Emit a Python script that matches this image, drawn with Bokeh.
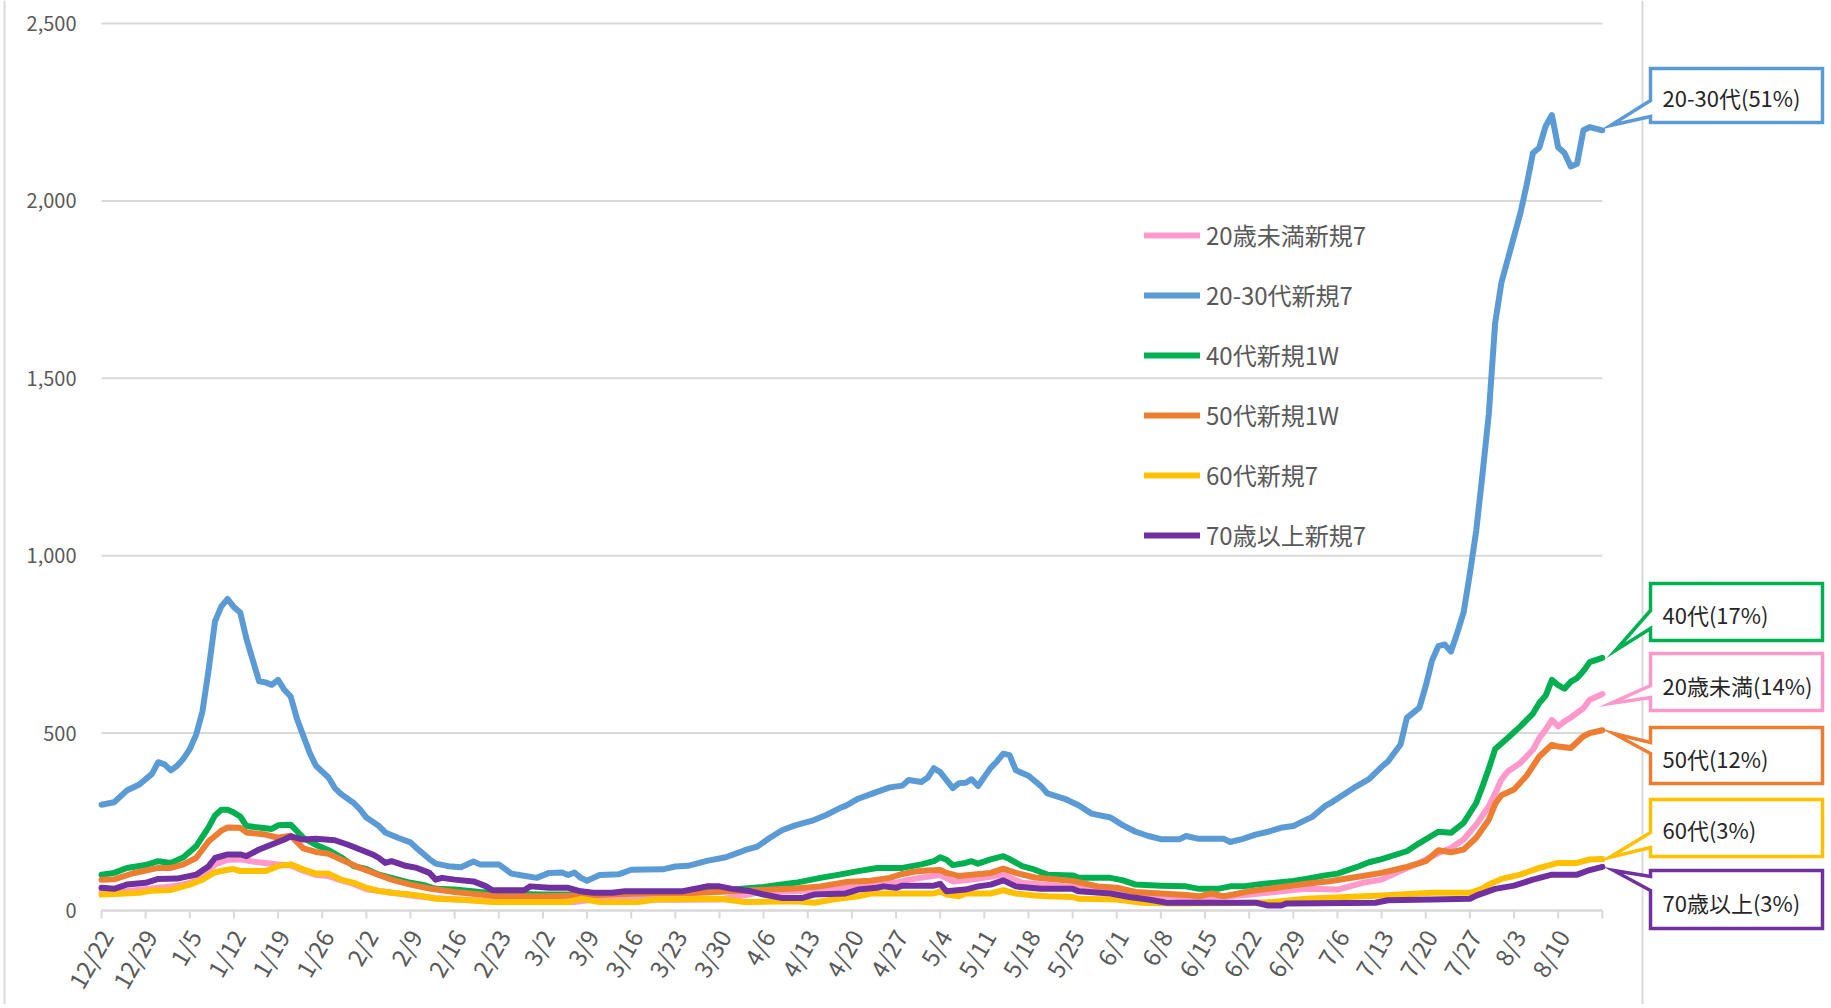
import math
from bokeh.plotting import figure
from bokeh.models import Range1d, FixedTicker, NumeralTickFormatter, Legend, LegendItem
from bokeh.core.properties import value
from bokeh.embed import file_html
from bokeh.resources import INLINE

# ---------------- data (day index from 12/22, values = weekly new cases) ----------------
tick_labels = ["12/22", "12/29", "1/5", "1/12", "1/19", "1/26", "2/2", "2/9", "2/16", "2/23",
               "3/2", "3/9", "3/16", "3/23", "3/30", "4/6", "4/13", "4/20", "4/27", "5/4",
               "5/11", "5/18", "5/25", "6/1", "6/8", "6/15", "6/22", "6/29", "7/6", "7/13",
               "7/20", "7/27", "8/3", "8/10"]
last_day = 238
y_ticks = [0, 500, 1000, 1500, 2000, 2500]

blue_days = [0, 2, 4, 6, 8, 9, 10, 11, 12, 13, 14, 15, 16, 17, 18, 19, 20, 21, 22, 23, 24, 25, 26, 27, 28,
             29, 30, 31, 33, 34, 36, 37, 38, 40, 41, 42, 44, 45, 47, 49, 50, 52, 53, 55, 57, 59, 60, 63, 65,
             67, 69, 71, 73, 74, 75, 76, 77, 79, 82, 84, 89, 91, 93, 96, 99, 101, 102, 104, 106, 108, 110,
             113, 115, 117, 118, 120, 122, 125, 127, 128, 130, 131, 132, 133, 135, 136, 137, 138, 139, 141,
             142, 143, 144, 145, 147, 149, 150, 153, 155, 157, 160, 162, 164, 166, 168, 171, 172, 174, 178,
             179, 181, 183, 185, 187, 189, 190, 192, 194, 195, 197, 199, 201, 203, 204, 206, 207, 209, 210,
             211, 212, 213, 214, 215, 216, 217, 218, 219, 220, 221, 222, 224, 225, 226, 227, 228, 229, 230,
             231, 232, 233, 234, 235, 236, 238]
blue_vals = [298, 305, 338, 355, 385, 418, 412, 395, 408, 428, 455, 495, 560, 680, 815, 857, 878, 855, 840,
             765, 705, 646, 643, 636, 650, 622, 603, 540, 445, 408, 375, 345, 328, 303, 285, 262, 238, 220,
             205, 192, 175, 145, 132, 125, 122, 138, 130, 130, 104, 98, 92, 106, 107, 100, 107, 92, 84, 100,
             102, 115, 116, 124, 126, 140, 150, 163, 170, 180, 205, 227, 240, 255, 270, 288, 295, 315, 328,
             347, 352, 368, 362, 374, 401, 390, 345, 359, 360, 370, 351, 402, 420, 442, 438, 395, 380, 350,
             330, 313, 296, 273, 262, 240, 222, 210, 201, 201, 210, 202, 202, 193, 202, 214, 222, 233, 238,
             247, 264, 294, 304, 327, 350, 370, 405, 420, 468, 543, 572, 633, 705, 745, 750, 730, 783, 840,
             950, 1070, 1230, 1400, 1655, 1770, 1900, 1965, 2045, 2135, 2150, 2210, 2242, 2151, 2135, 2097,
             2105, 2199, 2208, 2199]

green_days = [0, 2, 4, 7, 9, 11, 13, 15, 17, 18, 19, 20, 21, 22, 23, 25, 27, 28, 30, 32, 34, 36, 38, 40,
              42, 44, 46, 49, 51, 53, 56, 60, 63, 70, 77, 84, 91, 98, 102, 105, 107, 110, 114, 117, 120,
              123, 127, 130, 132, 133, 134, 135, 137, 138, 139, 141, 143, 144, 146, 148, 150, 154, 155, 160,
              162, 164, 168, 172, 174, 177, 179, 181, 184, 189, 191, 194, 196, 199, 201, 203, 207, 209, 212,
              214, 216, 218, 219, 220, 221, 223, 225, 227, 228, 229, 230, 231, 232, 233, 234, 235, 236, 238]
green_vals = [101, 106, 120, 128, 139, 134, 150, 181, 235, 268, 284, 284, 276, 265, 238, 234, 230, 240, 242,
              205, 185, 170, 150, 125, 117, 101, 92, 78, 72, 61, 59, 52, 48, 45, 45, 48, 50, 55, 62, 66, 71,
              78, 92, 101, 111, 120, 120, 130, 139, 150, 143, 128, 134, 139, 132, 144, 153, 145, 125, 115, 101,
              99, 92, 92, 85, 73, 70, 68, 61, 61, 68, 68, 75, 83, 89, 99, 104, 122, 136, 145, 167, 190, 222,
              219, 247, 303, 350, 400, 455, 486, 519, 555, 585, 605, 650, 635, 625, 645, 655, 675, 700, 712]

orange_days = [0, 2, 5, 9, 11, 13, 15, 17, 19, 20, 22, 23, 26, 28, 30, 32, 34, 36, 38, 41, 44, 46, 49, 52,
               56, 60, 63, 70, 77, 84, 91, 95, 100, 106, 110, 114, 118, 122, 125, 127, 129, 131, 133, 134,
               136, 138, 141, 143, 145, 148, 151, 154, 158, 161, 164, 168, 172, 174, 176, 178, 182, 185, 190,
               195, 200, 203, 207, 210, 212, 214, 216, 218, 220, 221, 222, 224, 226, 228, 230, 231, 233, 235,
               236, 238]
orange_vals = [87, 88, 105, 120, 120, 130, 148, 195, 225, 234, 233, 220, 214, 205, 211, 175, 165, 160, 144,
               120, 100, 87, 73, 62, 52, 45, 40, 40, 42, 48, 48, 50, 54, 59, 62, 68, 80, 84, 92, 103, 110,
               113, 114, 106, 97, 101, 106, 118, 106, 93, 88, 83, 68, 64, 52, 48, 44, 40, 48, 40, 54, 61, 73,
               83, 97, 106, 123, 139, 170, 164, 172, 205, 256, 300, 325, 341, 380, 434, 467, 462, 458, 491,
               500, 508]

pink_days = [0, 4, 8, 12, 14, 16, 18, 20, 22, 24, 26, 28, 30, 32, 34, 36, 38, 40, 42, 44, 47, 50, 53, 56,
             60, 65, 70, 75, 78, 85, 91, 98, 101, 104, 110, 114, 118, 122, 126, 128, 131, 133, 135, 138, 141,
             143, 146, 149, 155, 161, 167, 173, 179, 185, 189, 191, 196, 200, 203, 207, 209, 212, 214, 216,
             218, 220, 221, 222, 223, 225, 227, 228, 229, 230, 231, 232, 233, 235, 236, 238]
pink_vals = [52, 55, 62, 70, 78, 100, 130, 143, 144, 138, 134, 130, 127, 112, 100, 97, 85, 75, 60, 55, 48,
             40, 35, 32, 28, 25, 25, 24, 31, 31, 30, 31, 40, 50, 54, 59, 64, 68, 78, 87, 95, 100, 82, 87, 95,
             101, 78, 73, 64, 52, 42, 36, 40, 50, 58, 61, 59, 78, 87, 120, 134, 162, 176, 200, 242, 294, 330,
             369, 392, 416, 453, 486, 509, 537, 519, 533, 544, 570, 594, 610]

yellow_days = [0, 3, 6, 8, 11, 14, 16, 18, 20, 21, 22, 26, 28, 30, 32, 34, 36, 38, 40, 42, 44, 46, 49, 51,
               53, 57, 62, 74, 76, 79, 85, 88, 98, 102, 110, 113, 116, 120, 122, 132, 133, 134, 136, 137, 141,
               143, 145, 148, 150, 154, 155, 161, 165, 170, 180, 185, 191, 203, 211, 217, 219, 220, 222, 225,
               228, 231, 234, 236, 238]
yellow_vals = [45, 47, 50, 56, 58, 73, 87, 108, 115, 117, 111, 111, 125, 130, 116, 104, 104, 87, 78, 64, 55,
               50, 45, 40, 33, 30, 24, 24, 33, 24, 24, 31, 33, 24, 26, 22, 31, 40, 48, 48, 54, 45, 40, 48, 48,
               57, 48, 42, 40, 38, 33, 31, 22, 20, 21, 23, 33, 42, 50, 50, 62, 73, 89, 101, 120, 134, 134,
               144, 145]

purple_days = [0, 2, 4, 7, 9, 12, 15, 17, 18, 20, 22, 23, 25, 27, 29, 30, 32, 34, 37, 39, 41, 43, 44, 45,
               46, 48, 50, 52, 53, 54, 56, 59, 61, 62, 67, 68, 71, 74, 76, 78, 81, 83, 92, 95, 96, 98, 100,
               101, 103, 105, 108, 111, 113, 118, 120, 123, 124, 126, 127, 132, 133, 134, 137, 139, 141, 143,
               145, 149, 154, 155, 160, 163, 166, 169, 183, 185, 187, 188, 202, 204, 211, 217, 218, 221, 224,
               227, 230, 234, 236, 238]
purple_vals = [64, 61, 73, 78, 89, 90, 101, 125, 148, 158, 158, 153, 172, 186, 200, 209, 200, 202, 198, 186,
               172, 158, 148, 134, 139, 127, 120, 106, 87, 92, 87, 82, 68, 57, 57, 68, 64, 64, 54, 50, 50, 54,
               54, 64, 68, 68, 61, 59, 54, 45, 35, 35, 45, 48, 59, 64, 68, 64, 70, 70, 75, 54, 59, 68, 73, 85,
               68, 61, 61, 54, 48, 38, 31, 22, 22, 14, 14, 20, 22, 29, 31, 33, 42, 61, 70, 87, 101, 101, 114,
               123]

series = [
    ("20歳未満新規7", "#FF99CC", pink_days, pink_vals),
    ("20-30代新規7", "#5B9BD5", blue_days, blue_vals),
    ("40代新規1W", "#00B050", green_days, green_vals),
    ("50代新規1W", "#ED7D31", orange_days, orange_vals),
    ("60代新規7", "#FFC000", yellow_days, yellow_vals),
    ("70歳以上新規7", "#7030A0", purple_days, purple_vals),
]

callout_texts = ["20-30代(51%)", "40代(17%)", "20歳未満(14%)", "50代(12%)", "60代(3%)", "70歳以上(3%)"]
callout_colors = ["#5B9BD5", "#00B050", "#FF99CC", "#ED7D31", "#FFC000", "#7030A0"]

# ---------------- layout (page pixels) ----------------
FONT = "Noto Sans CJK JP"
W, H = 1826, 1004
FRAME_L = 0              # frame left edge (value labels are drawn inside it)
X0 = 101                 # page x of the first category
Y0 = 910                 # page y of value 0
PX_PER_DAY = 6.306
PX_PER_UNIT = 0.3548

x_start = -(X0 - FRAME_L) / PX_PER_DAY
x_end = x_start + (W - FRAME_L) / PX_PER_DAY
y_start = -(H - Y0) / PX_PER_UNIT
y_end = Y0 / PX_PER_UNIT


def dx(px):  # page pixel x -> data x
    return (px - X0) / PX_PER_DAY


def dy(py):  # page pixel y -> data y
    return (Y0 - py) / PX_PER_UNIT


p = figure(width=W, height=H, output_backend="svg", toolbar_location=None,
           x_axis_location=None,
           x_range=Range1d(x_start, x_end), y_range=Range1d(y_start, y_end),
           min_border_left=FRAME_L, min_border_right=0, min_border_top=0, min_border_bottom=0)
p.outline_line_color = None
p.xgrid.visible = False
p.ygrid.visible = False
p.background_fill_color = "white"
p.border_fill_color = "white"

grid_col = "#D9D9D9"
gy = [t for t in y_ticks if t > 0]
p.segment(x0=[0] * len(gy), x1=[last_day] * len(gy), y0=gy, y1=gy, line_color=grid_col, line_width=2)
week_days = list(range(0, last_day + 1, 7))
p.segment(x0=[0], x1=[last_day], y0=[0], y1=[0], line_color=grid_col, line_width=2.5)
tick_len = 8 / PX_PER_UNIT
p.segment(x0=week_days, x1=week_days, y0=[0] * len(week_days), y1=[-tick_len] * len(week_days),
          line_color=grid_col, line_width=2)
# chart-area edges
p.segment(x0=[dx(4), dx(1642)], x1=[dx(4), dx(1642)], y0=[y_start] * 2, y1=[y_end] * 2,
          line_color=grid_col, line_width=2)

# ---------------- series ----------------
renderers = []
for name, col, days, vals in series:
    r = p.line(days, vals, line_color=col, line_width=6, line_join="round", line_cap="round")
    renderers.append((name, r))

# ---------------- category labels (rotated, hanging below the axis) ----------------
label_days = [7 * i for i in range(len(tick_labels))]
lab_dx = 4 / PX_PER_DAY
lab_y = dy(Y0 + 21)
p.text(x=[d + lab_dx for d in label_days], y=[lab_y] * len(label_days), text=tick_labels,
       angle=math.radians(60), text_align="right", text_baseline="middle",
       text_font=value(FONT), text_font_size="24px", text_color="#595959")

# ---------------- value axis ----------------
p.yaxis.ticker = FixedTicker(ticks=y_ticks)
p.yaxis.formatter = NumeralTickFormatter(format="0,0")
p.yaxis.axis_line_color = None
p.yaxis.major_tick_line_color = None
p.yaxis.minor_tick_line_color = None
p.yaxis.major_tick_out = 0
p.yaxis.major_tick_in = 0
p.yaxis.minor_tick_out = 0
p.yaxis.major_label_standoff = -(76 - FRAME_L)
p.yaxis.major_label_text_font = FONT
p.yaxis.major_label_text_font_size = "20px"
p.yaxis.major_label_text_color = "#595959"

# ---------------- legend ----------------
legend = Legend(items=[LegendItem(label=n, renderers=[r]) for n, r in renderers],
                location=(1144 - FRAME_L, H - 552), orientation="vertical")
legend.border_line_color = None
legend.background_fill_alpha = 0
legend.padding = 0
legend.margin = 0
legend.spacing = 25
legend.glyph_width = 56
legend.glyph_height = 24
legend.label_height = 24
legend.label_standoff = 6
legend.label_text_font = FONT
legend.label_text_font_size = "24px"
legend.label_text_color = "#595959"
p.add_layout(legend)

# ---------------- callouts (page pixels) ----------------
box_l, box_r = 1650, 1822
boxes = [  # top, bottom, tail base top, tail base bottom, tip x, tip y, text y
    (68, 122, 100, 116, 1610, 125, 96),
    (583, 640, 610, 628, 1615, 650, 613),
    (653, 710, 685, 697, 1610, 703, 684),
    (727, 783, 742, 753, 1613, 733, 757),
    (799, 856, 832, 847, 1609, 857, 828),
    (870, 928, 876, 890, 1613, 870, 901),
]
xs, ys = [], []
for (t, b, b1, b2, tx, ty, _) in boxes:
    px = [box_l, box_r, box_r, box_l, box_l, tx, box_l]
    py = [t, t, b, b, b2, ty, b1]
    xs.append([dx(v) for v in px])
    ys.append([dy(v) for v in py])
p.patches(xs, ys, fill_color="white", line_color=callout_colors, line_width=3.5, line_join="miter")
p.text(x=[dx(box_l + 12)] * len(boxes), y=[dy(bx[6]) for bx in boxes], text=callout_texts,
       text_font=value(FONT), text_font_size="22px", text_color="#262626",
       text_align="left", text_baseline="middle")

open("out.html", "w").write(file_html(p, INLINE))
